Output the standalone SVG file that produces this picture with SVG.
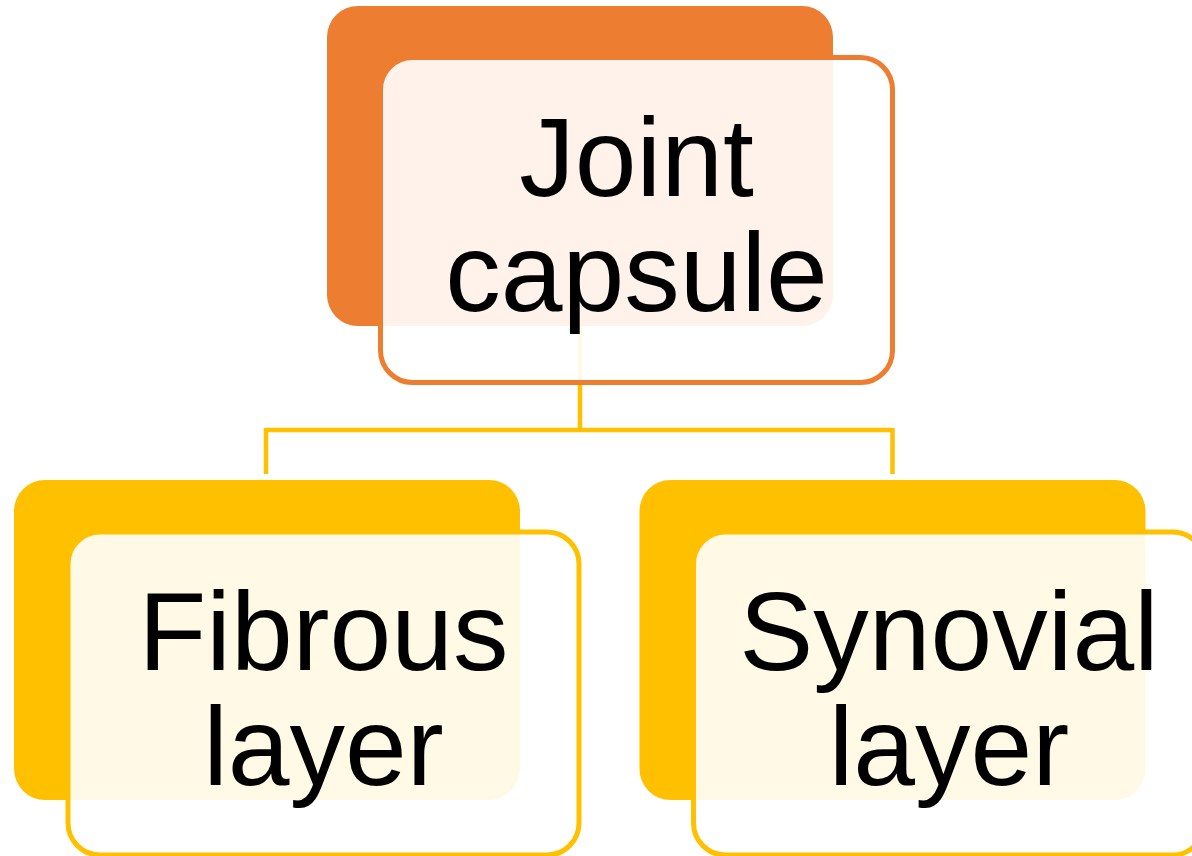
<svg xmlns="http://www.w3.org/2000/svg" width="1192" height="856" viewBox="0 0 1192 856">
  <style>
    .back-o { fill: #ED7D31; }
    .back-y { fill: #FFC000; }
    .front { fill: #FFFFFF; fill-opacity: 0.9; stroke-width: 5; }
    .front-o { stroke: #ED7D31; }
    .front-y { stroke: #FFC000; }
    .label { font-family: "Liberation Sans", Arial, sans-serif; font-size: 111px; fill: #000000; text-anchor: middle; }
    .link { fill: none; stroke: #FFC000; stroke-width: 4.5; }
  </style>

  <!-- connectors sit beneath the nodes -->
  <g id="connectors">
    <path class="link" d="M580,326 V430 M266,430 H892.5 M266,428 V474 M892.5,428 V474"/>
  </g>

  <g id="node-joint-capsule">
    <rect class="back-o" x="327" y="6" width="506" height="320" rx="31" ry="31"/>
    <rect class="front front-o" x="380.5" y="57.5" width="512" height="325" rx="32" ry="32"/>
    <text class="label" x="636.5" y="196">Joint</text>
    <text class="label" x="636.5" y="311">capsule</text>
  </g>

  <g id="node-fibrous-layer">
    <rect class="back-y" x="14" y="480" width="506" height="320" rx="31" ry="31"/>
    <rect class="front front-y" x="68" y="532" width="511" height="323" rx="32" ry="32"/>
    <text class="label" x="323.5" y="670">Fibrous</text>
    <text class="label" x="323.5" y="785">layer</text>
  </g>

  <g id="node-synovial-layer">
    <rect class="back-y" x="639.5" y="480" width="506" height="320" rx="31" ry="31"/>
    <rect class="front front-y" x="693.5" y="532" width="511" height="323" rx="32" ry="32"/>
    <text class="label" x="949" y="670">Synovial</text>
    <text class="label" x="949" y="785">layer</text>
  </g>
</svg>
